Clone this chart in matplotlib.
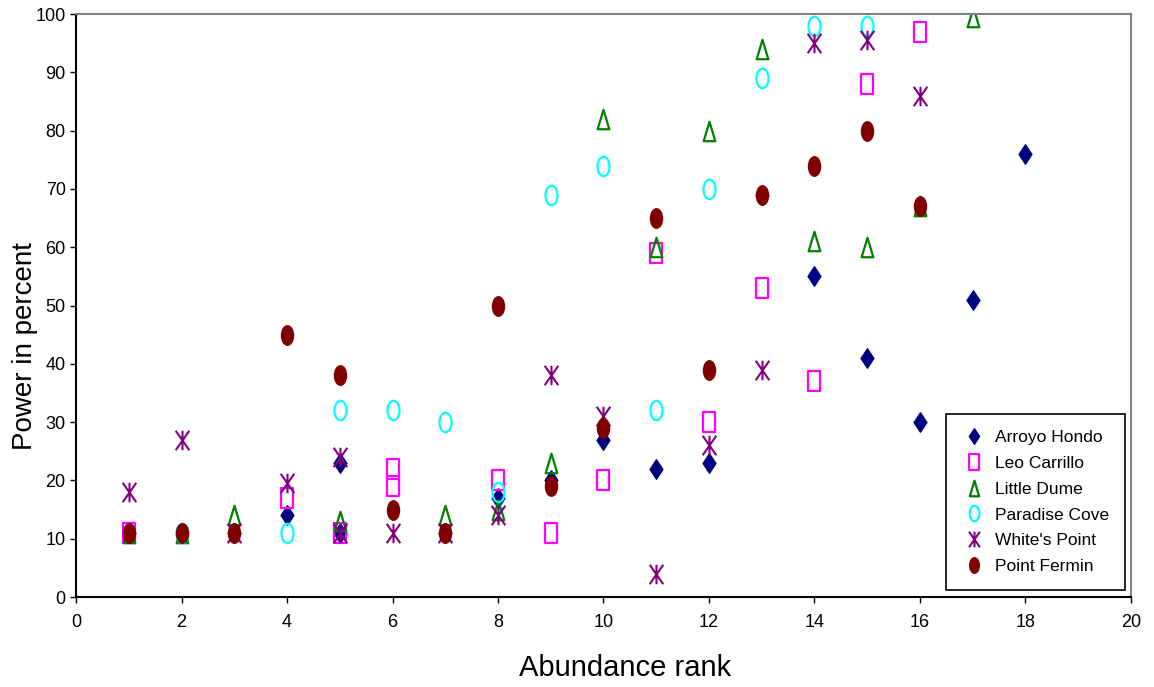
import matplotlib
matplotlib.use("Agg")
import matplotlib.pyplot as plt
from matplotlib.path import Path
from matplotlib.transforms import Affine2D

plt.rcParams['font.family'] = ['Liberation Sans', 'DejaVu Sans']

# data (abundance rank, power in percent)
arroyo_x = [1, 3, 4, 5, 5, 7, 8, 9, 10, 11, 12, 13, 14, 15, 16, 17, 18]
arroyo_y = [11, 11, 14, 23, 11, 11, 17, 20, 27, 22, 23, 69, 55, 41, 30, 51, 76]

leo_x = [1, 4, 5, 6, 6, 8, 9, 10, 11, 12, 13, 14, 15, 16]
leo_y = [11, 17, 11, 22, 19, 20, 11, 20, 59, 30, 53, 37, 88, 97]

dume_x = [1, 2, 3, 5, 7, 8, 9, 10, 11, 12, 13, 14, 15, 16, 17]
dume_y = [11, 11, 14, 13, 14, 15, 23, 82, 60, 80, 94, 61, 60, 67, 99.5]

paradise_x = [2, 4, 5, 6, 7, 8, 9, 10, 11, 12, 13, 14, 15]
paradise_y = [11, 11, 32, 32, 30, 18, 69, 74, 32, 70, 89, 98, 98]

whites_x = [1, 2, 3, 4, 5, 5, 6, 7, 8, 9, 10, 11, 12, 13, 14, 15, 16]
whites_y = [18, 27, 11, 19.5, 24, 11, 11, 11, 14, 38, 31, 4, 26, 39, 95, 95.5, 86]

fermin_x = [1, 2, 3, 4, 5, 6, 7, 8, 9, 10, 11, 12, 13, 14, 15, 16]
fermin_y = [11, 11, 11, 45, 38, 15, 11, 50, 19, 29, 65, 39, 69, 74, 80, 67]

# marker shapes similar to the old spreadsheet ones
tall_ellipse = Path.unit_circle().transformed(Affine2D().scale(0.62, 1.0))
tall_rect = Path([(-0.32, -0.5), (0.32, -0.5), (0.32, 0.5), (-0.32, 0.5), (-0.32, -0.5)],
                 [Path.MOVETO, Path.LINETO, Path.LINETO, Path.LINETO, Path.CLOSEPOLY])
diamond = Path([(0, -0.5), (0.33, 0), (0, 0.5), (-0.33, 0), (0, -0.5)],
               [Path.MOVETO, Path.LINETO, Path.LINETO, Path.LINETO, Path.CLOSEPOLY])
triangle = Path([(-0.3, -0.5), (0.3, -0.5), (0, 0.5), (-0.3, -0.5)],
                [Path.MOVETO, Path.LINETO, Path.LINETO, Path.CLOSEPOLY])
star = Path([(-0.35, -0.5), (0.35, 0.5), (-0.35, 0.5), (0.35, -0.5), (0, -0.5), (0, 0.5)],
            [Path.MOVETO, Path.LINETO, Path.MOVETO, Path.LINETO, Path.MOVETO, Path.LINETO])

fig = plt.figure(figsize=(11.54, 6.87), dpi=100)
ax = fig.add_axes([0.0659, 0.131, 0.9141, 0.8486])

ax.plot(arroyo_x, arroyo_y, linestyle='none', marker=diamond, markersize=14,
        color='#000080', label='Arroyo Hondo')
ax.plot(leo_x, leo_y, linestyle='none', marker=tall_rect, markersize=14,
        markerfacecolor='none', markeredgecolor='#FF00FF', markeredgewidth=1.6, label='Leo Carrillo')
ax.plot(dume_x, dume_y, linestyle='none', marker=triangle, markersize=14,
        markerfacecolor='none', markeredgecolor='#008000', markeredgewidth=1.6, label='Little Dume')
ax.plot(paradise_x, paradise_y, linestyle='none', marker=tall_ellipse, markersize=14,
        markerfacecolor='none', markeredgecolor='#00FFFF', markeredgewidth=1.6, label='Paradise Cove')
ax.plot(whites_x, whites_y, linestyle='none', marker=star, markersize=14,
        color='#800080', markeredgewidth=1.5, label="White's Point")
ax.plot(fermin_x, fermin_y, linestyle='none', marker=tall_ellipse, markersize=14,
        color='#800000', label='Point Fermin')

ax.set_xlim(0, 20)
ax.set_ylim(0, 100)
ax.set_xticks(range(0, 21, 2))
ax.set_yticks(range(0, 101, 10))
ax.tick_params(labelsize=13, direction='out', length=4, width=1)
ax.tick_params(axis='x', pad=8)

ax.spines['top'].set_color('#808080')
ax.spines['right'].set_color('#808080')
for s in ['top', 'right', 'left', 'bottom']:
    ax.spines[s].set_linewidth(1.5)

ax.set_xlabel('Abundance rank', fontsize=21)
ax.set_ylabel('Power in percent', fontsize=20)
# label positions match the reference (not centred on the axis)
ax.xaxis.set_label_coords(0.52, -0.097)
ax.yaxis.set_label_coords(-0.036, 0.43)

leg = ax.legend(loc='lower right', bbox_to_anchor=(0.994, 0.012), borderaxespad=0,
                fontsize=12.5, markerscale=0.8,
                frameon=True, fancybox=False, edgecolor='black', framealpha=1,
                borderpad=0.9, labelspacing=0.62, handletextpad=0.5, handlelength=1.4)
leg.get_frame().set_linewidth(1.2)

fig.savefig('out.png', dpi=100)
